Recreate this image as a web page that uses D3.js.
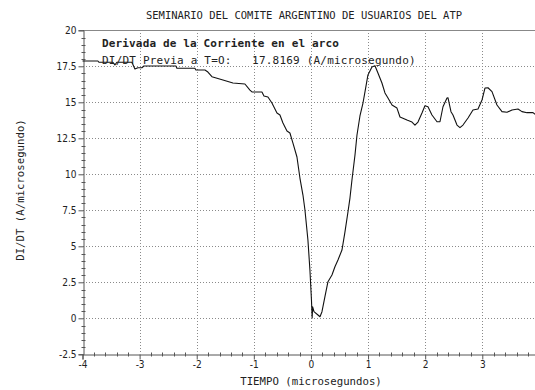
<!DOCTYPE html>
<html>
<head>
<meta charset="utf-8">
<script src="https://cdn.jsdelivr.net/npm/d3@7"></script>
<style>
  html, body { margin: 0; padding: 0; background: #fff; }
  svg { display: block; }
  text { fill: #222; }
</style>
</head>
<body>
<div id="chart"></div>
<script>
// Time axis (microseconds) and dI/dt samples (A/microsecond)
const tiempo = [
  -4.000, -3.730, -3.713, -3.468, -3.433, -3.398, -3.135, -3.082, -3.030, -2.960,
  -2.925, -2.364, -2.347, -2.032, -2.014, -1.856, -1.804, -1.734, -1.541, -1.366,
  -1.156, -1.068, -1.033, -0.858, -0.823, -0.753, -0.683, -0.595, -0.543, -0.490,
  -0.420, -0.368, -0.315, -0.245, -0.193, -0.140, -0.105, -0.053, -0.018, 0.009,
  0.021, 0.030, 0.053, 0.123, 0.158, 0.193, 0.245, 0.298, 0.368, 0.420,
  0.473, 0.543, 0.595, 0.648, 0.683, 0.718, 0.771, 0.806, 0.858, 0.911,
  0.946, 0.998, 1.068, 1.121, 1.173, 1.243, 1.296, 1.349, 1.419, 1.506,
  1.559, 1.681, 1.769, 1.821, 1.874, 1.944, 1.996, 2.049, 2.119, 2.207,
  2.259, 2.312, 2.382, 2.399, 2.452, 2.487, 2.557, 2.609, 2.662, 2.750,
  2.837, 2.925, 2.995, 3.047, 3.100, 3.170, 3.257, 3.345, 3.433, 3.520,
  3.625, 3.695, 3.783, 3.888, 3.923
];
const didt = [
  17.87, 17.87, 17.78, 17.78, 17.59, 17.78, 17.78, 17.31, 17.40, 17.40,
  17.52, 17.52, 17.36, 17.36, 17.24, 17.24, 17.10, 16.78, 16.55, 16.34,
  16.27, 15.85, 15.72, 15.72, 15.44, 15.37, 14.95, 14.26, 14.12, 13.56,
  13.01, 12.87, 12.17, 11.20, 9.74, 8.56, 7.52, 5.44, 3.35, 1.27,
  0.03, 0.80, 0.46, 0.23, 0.11, 0.46, 1.50, 2.54, 3.01, 3.58,
  4.05, 4.74, 5.99, 7.38, 8.35, 9.60, 11.34, 12.73, 14.05, 14.95,
  15.72, 16.90, 17.45, 17.54, 17.03, 16.34, 15.65, 15.30, 14.81, 14.60,
  13.98, 13.77, 13.63, 13.42, 13.63, 14.26, 14.76, 14.69, 14.12, 13.65,
  13.65, 14.69, 15.30, 15.32, 14.35, 14.12, 13.42, 13.24, 13.42, 13.91,
  14.47, 14.53, 15.16, 15.99, 16.01, 15.74, 14.81, 14.35, 14.31, 14.47,
  14.53, 14.35, 14.28, 14.28, 14.17
];

const xTicks = [-4, -3, -2, -1, 0, 1, 2, 3];
const yTicks = [-2.5, 0, 2.5, 5, 7.5, 10, 12.5, 15, 17.5, 20];

const titulo = "SEMINARIO DEL COMITE ARGENTINO DE USUARIOS DEL ATP";
const leyenda1 = "Derivada de la Corriente en el arco";
const leyenda2 = "DI/DT Previa a T=O:   17.8169 (A/microsegundo)";
const etiquetaX = "TIEMPO (microsegundos)";
const etiquetaY = "DI/DT (A/microsegundo)";

const W = 535, H = 390;
const plot = { left: 82.5, right: 535, top: 30.3, bottom: 354.3 };

const x = d3.scaleLinear().domain([-4, 3.923]).range([plot.left, plot.right]);
const y = d3.scaleLinear().domain([-2.5, 20]).range([plot.bottom, plot.top]);

const svg = d3.select("#chart").append("svg")
  .attr("width", W).attr("height", H);

const mono = "'DejaVu Sans Mono', monospace";
const tickFont = "'DejaVu Sans Condensed', 'DejaVu Sans', sans-serif";
const px = v => Math.round(v) + 0.5;

// dotted grid at major ticks
const grid = svg.append("g")
  .attr("stroke", "#8a8a8a").attr("stroke-width", 1)
  .attr("stroke-dasharray", "1,2").attr("shape-rendering", "crispEdges");

grid.selectAll("line.h")
  .data(yTicks.filter(v => v > -2.5 && v < 20))
  .join("line").attr("class", "h")
  .attr("x1", plot.left).attr("x2", plot.right)
  .attr("y1", d => px(y(d))).attr("y2", d => px(y(d)));

grid.selectAll("line.v")
  .data(xTicks.filter(v => v > -4))
  .join("line").attr("class", "v")
  .attr("x1", d => px(x(d))).attr("x2", d => px(x(d)))
  .attr("y1", plot.top).attr("y2", plot.bottom);

// top frame line
svg.append("line")
  .attr("x1", plot.left).attr("x2", plot.right)
  .attr("y1", px(plot.top)).attr("y2", px(plot.top))
  .attr("stroke", "#888").attr("shape-rendering", "crispEdges");

// Y axis: majors labelled, minors every 0.5
const yAxis = d3.axisLeft(y).tickValues(yTicks).tickSize(5).tickPadding(2)
  .tickFormat(d => String(d));
const gy = svg.append("g").attr("transform", `translate(${px(plot.left)},0)`).call(yAxis);
gy.select(".domain").attr("stroke", "#555");
gy.selectAll(".tick line").attr("stroke", "#555");
gy.selectAll(".tick text").attr("font-family", tickFont).attr("font-size", 10).attr("fill", "#333");
const yMinor = d3.range(-2.5, 20.001, 0.5).filter(v => !yTicks.some(t => Math.abs(t - v) < 1e-6));
gy.append("g").selectAll("line").data(yMinor).join("line")
  .attr("x1", -2).attr("x2", 2)
  .attr("y1", d => px(y(d))).attr("y2", d => px(y(d)))
  .attr("stroke", "#555");

// X axis: majors labelled, minors every 0.2
const xAxis = d3.axisBottom(x).tickValues(xTicks).tickSize(5).tickPadding(1)
  .tickFormat(d => String(d));
const gx = svg.append("g").attr("transform", `translate(0,${px(plot.bottom)})`).call(xAxis);
gx.select(".domain").attr("stroke", "#555");
gx.selectAll(".tick line").attr("stroke", "#555");
gx.selectAll(".tick text").attr("font-family", tickFont).attr("font-size", 10).attr("fill", "#333");
const xMinor = d3.range(-4, 3.93, 0.2).filter(v => !xTicks.some(t => Math.abs(t - v) < 1e-6));
gx.append("g").selectAll("line").data(xMinor).join("line")
  .attr("x1", d => px(x(d))).attr("x2", d => px(x(d)))
  .attr("y1", -2).attr("y2", 2)
  .attr("stroke", "#555");

// the dI/dt curve
const pts = tiempo.map((t, i) => [t, didt[i]]);
svg.append("path")
  .datum(pts)
  .attr("fill", "none")
  .attr("stroke", "#111")
  .attr("stroke-width", 1.1)
  .attr("stroke-linejoin", "round")
  .attr("d", d3.line().x(d => x(d[0])).y(d => y(d[1])));

// title and legend text
svg.append("text").attr("x", 304).attr("y", 19)
  .attr("text-anchor", "middle").attr("font-family", mono).attr("font-size", 10.5)
  .text(titulo);

svg.append("text").attr("x", 102).attr("y", 47)
  .attr("font-family", mono).attr("font-size", 11).attr("font-weight", "bold")
  .attr("letter-spacing", 0.15)
  .text(leyenda1);

svg.append("text").attr("x", 102).attr("y", 64)
  .attr("font-family", mono).attr("font-size", 11).attr("letter-spacing", 0.2)
  .style("white-space", "pre")
  .text(leyenda2);

svg.append("text").attr("x", 311).attr("y", 385)
  .attr("text-anchor", "middle").attr("font-family", mono).attr("font-size", 10.7)
  .text(etiquetaX);

svg.append("text")
  .attr("transform", "translate(24,190) rotate(-90)")
  .attr("text-anchor", "middle").attr("font-family", mono).attr("font-size", 10.7)
  .text(etiquetaY);
</script>
</body>
</html>
